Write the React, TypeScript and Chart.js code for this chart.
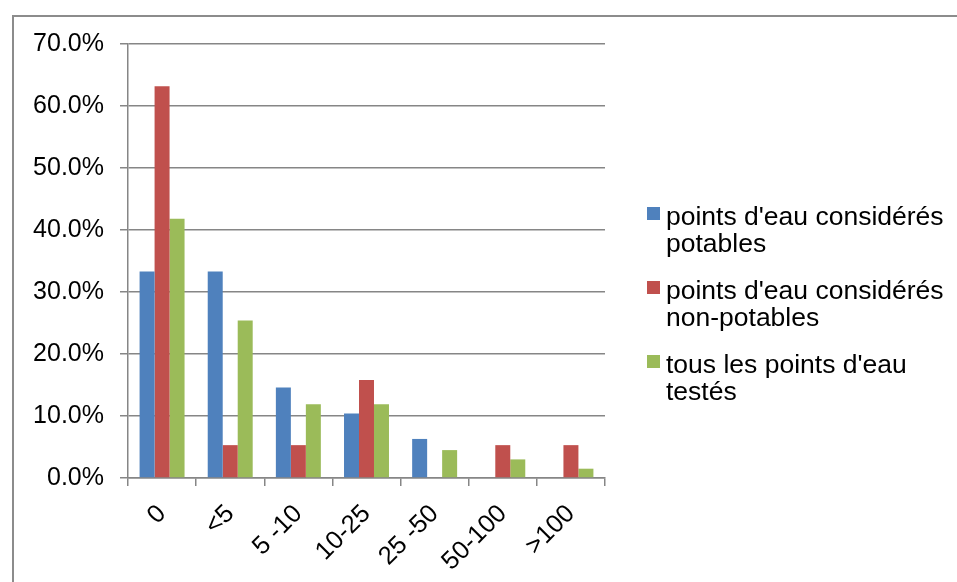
import React, { useEffect, useRef } from "react";
import { Chart, registerables } from "chart.js";

Chart.register(...registerables);

const categories = ["0", "<5", "5 -10", "10-25", "25 -50", "50-100", ">100"];
const seriesNames = [
  "points d'eau considérés potables",
  "points d'eau considérés non-potables",
  "tous les points d'eau testés",
];
// Legend entries broken onto two lines each
const legendLines = [
  ["points d'eau considérés", "potables"],
  ["points d'eau considérés", "non-potables"],
  ["tous les points d'eau", "testés"],
];
const potables = [0.333, 0.333, 0.146, 0.104, 0.063, 0, 0];
const nonPotables = [0.632, 0.053, 0.053, 0.158, 0, 0.053, 0.053];
const tousTestes = [0.418, 0.254, 0.119, 0.119, 0.045, 0.03, 0.015];
const yTicks = [0, 0.1, 0.2, 0.3, 0.4, 0.5, 0.6, 0.7];

const colors = ["#4F81BD", "#C0504D", "#9BBB59"];
const FONT = "Liberation Sans, Arial, sans-serif";

// Outer frame and legend drawn straight on the canvas
const framePlugin = {
  id: "frame",
  afterDraw(chart: any) {
    const ctx = chart.ctx as CanvasRenderingContext2D;
    ctx.save();
    ctx.strokeStyle = "#8c8c8c";
    ctx.lineWidth = 2;
    ctx.beginPath();
    ctx.moveTo(13, 582);
    ctx.lineTo(13, 16);
    ctx.lineTo(957, 16);
    ctx.stroke();

    ctx.font = `26.5px ${FONT}`;
    ctx.textBaseline = "alphabetic";
    ctx.textAlign = "left";
    const lineH = 27.5;
    let base = 224.5;
    chart.data.datasets.forEach((ds: any, i: number) => {
      ctx.fillStyle = ds.backgroundColor;
      ctx.fillRect(647, Math.round(base - 18), 13, 13);
      ctx.fillStyle = "#000";
      legendLines[i].forEach((l, k) => ctx.fillText(l, 666, base + k * lineH));
      base += 74;
    });
    ctx.restore();
  },
};

export default function App() {
  const ref = useRef<HTMLCanvasElement>(null);

  useEffect(() => {
    if (!ref.current) return;
    const chart = new Chart(ref.current, {
      type: "bar",
      data: {
        labels: categories,
        datasets: [potables, nonPotables, tousTestes].map((d, i) => ({
          label: seriesNames[i],
          data: d,
          backgroundColor: colors[i],
          borderWidth: 0,
          categoryPercentage: 0.66,
          barPercentage: 1,
        })),
      },
      options: {
        animation: false,
        responsive: false,
        layout: { padding: { top: 44, right: 352, left: 0, bottom: 0 } },
        plugins: {
          legend: { display: false },
          tooltip: { enabled: false },
        },
        scales: {
          x: {
            afterFit: (s: any) => {
              s.height = 104;
            },
            grid: {
              display: true,
              drawOnChartArea: false,
              drawTicks: true,
              tickLength: 8,
              color: "#868686",
              lineWidth: 1.5,
            },
            border: { color: "#868686", width: 1.5 },
            ticks: {
              color: "#000",
              font: { family: FONT, size: 25.5 },
              minRotation: 45,
              maxRotation: 45,
              padding: 13,
            },
          },
          y: {
            min: 0,
            max: 0.7,
            afterFit: (s: any) => {
              s.width = 128;
            },
            afterBuildTicks: (s: any) => {
              s.ticks = yTicks.map((v) => ({ value: v }));
            },
            grid: {
              color: "#868686",
              lineWidth: 1.5,
              tickLength: 8,
            },
            border: { color: "#868686", width: 1.5 },
            ticks: {
              color: "#000",
              font: { family: FONT, size: 25 },
              padding: 16,
              callback: (v: any) => (Number(v) * 100).toFixed(1) + "%",
            },
          },
        },
      },
      plugins: [framePlugin],
    });
    return () => chart.destroy();
  }, []);

  return (
    <div style={{ position: "fixed", left: 0, top: 0, width: 957, height: 582, background: "#fff" }}>
      <canvas ref={ref} width={957} height={582} style={{ width: 957, height: 582 }} />
    </div>
  );
}
